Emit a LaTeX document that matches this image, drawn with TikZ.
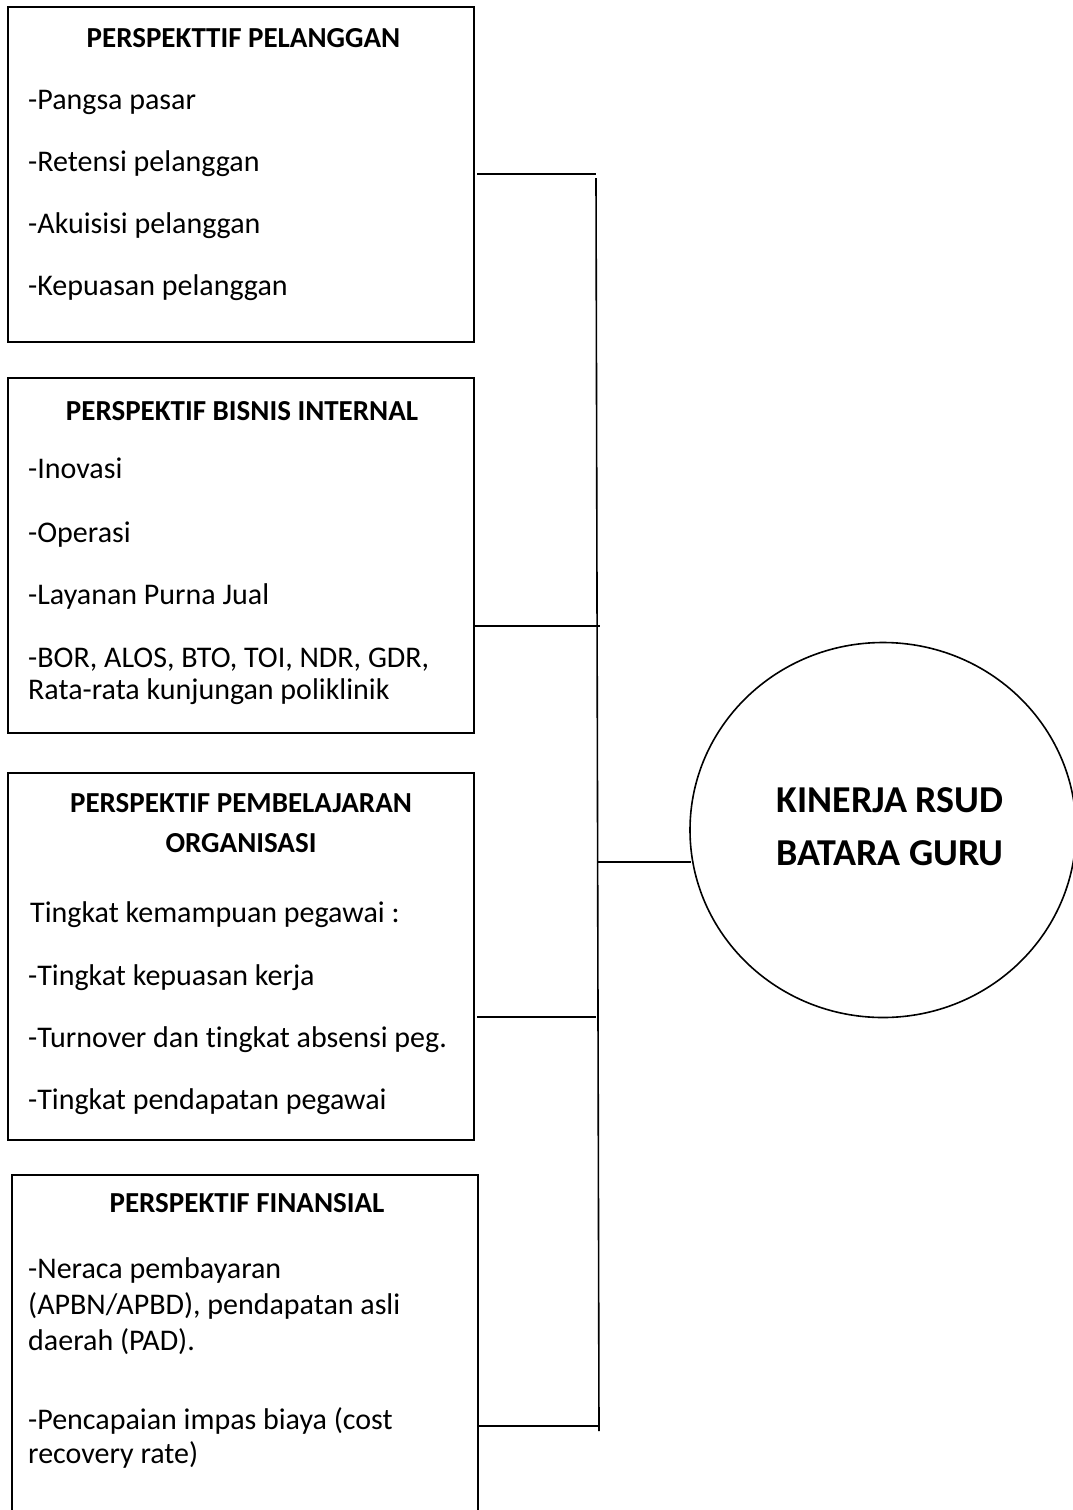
\documentclass[tikz,border=0pt]{standalone}
\usepackage{fontspec}
\setmainfont{Carlito}[Ligatures=NoCommon]
\usetikzlibrary{shapes.geometric}
\begin{document}
\begin{tikzpicture}[x=1pt,y=-1pt,
  box/.style={draw=black,line width=1.6pt,inner sep=0pt},
  conn/.style={draw=black,line width=1.6pt},
  hd/.style={anchor=base,inner sep=0pt,font=\fontsize{29}{35}\selectfont\bfseries},
  item/.style={anchor=base west,inner sep=0pt,font=\fontsize{30}{36}\selectfont},
  big/.style={align=center,inner sep=0pt,font=\fontsize{38}{53}\selectfont\bfseries}]
\path[use as bounding box,clip] (0,0) rectangle (1073,1510);
% boxes
\node[box,minimum width=466pt,minimum height=335pt] (b1) at (241,174.5) {};
\node[box,minimum width=466pt,minimum height=355pt] (b2) at (241,555.5) {};
\node[box,minimum width=466pt,minimum height=367pt] (b3) at (241,956.5) {};
\node[box,minimum width=466pt,minimum height=380pt] (b4) at (245,1365) {};
% box 1
\node[hd] (t1) at (243.5,47) {PERSPEKTTIF PELANGGAN};
\node[item] (t1a) at (28,109) {-Pangsa pasar};
\node[item] (t1b) at (28,171) {-Retensi pelanggan};
\node[item] (t1c) at (28,233) {-Akuisisi pelanggan};
\node[item] (t1d) at (28,295) {-Kepuasan pelanggan};
% box 2
\node[hd] (t2) at (242,420) {PERSPEKTIF BISNIS INTERNAL};
\node[item] (t2a) at (28,478) {-Inovasi};
\node[item] (t2b) at (28,542) {-Operasi};
\node[item] (t2c) at (28,604) {-Layanan Purna Jual};
\node[item] (t2d) at (28,667) {-BOR, ALOS, BTO, TOI, NDR, GDR,};
\node[item] (t2e) at (28,699) {Rata-rata kunjungan poliklinik};
% box 3
\node[hd] (t3) at (241,812) {PERSPEKTIF PEMBELAJARAN};
\node[hd] (t3h) at (241,852) {ORGANISASI};
\node[item] (t3a) at (30,922) {Tingkat kemampuan pegawai :};
\node[item] (t3b) at (28,985) {-Tingkat kepuasan kerja};
\node[item] (t3c) at (28,1047) {-Turnover dan tingkat absensi peg.};
\node[item] (t3d) at (28,1109) {-Tingkat pendapatan pegawai};
% box 4
\node[hd] (t4) at (247,1212) {PERSPEKTIF FINANSIAL};
\node[item] (t4a) at (28,1278) {-Neraca pembayaran};
\node[item] (t4b) at (28,1314) {(APBN/APBD), pendapatan asli};
\node[item] (t4c) at (28,1350) {daerah (PAD).};
\node[item] (t4d) at (28,1429) {-Pencapaian impas biaya (cost};
\node[item] (t4e) at (28,1463) {recovery rate)};
% circle
\node[draw=black,line width=1.6pt,ellipse,minimum width=386pt,minimum height=375pt,inner sep=0pt] (c) at (883,830) {};
\node[big] (ct) at (890,827) {KINERJA RSUD\\BATARA GURU};
% connectors
\coordinate (v1) at (596,178);
\coordinate (v2) at (599,1431);
\coordinate (h1a) at (477,174); \coordinate (h1b) at (596,174);
\coordinate (h2a) at (474,626); \coordinate (h2b) at (600,626);
\coordinate (h3a) at (477,1017); \coordinate (h3b) at (596,1017);
\coordinate (h4a) at (478,1426); \coordinate (h4b) at (599,1426);
\coordinate (h5a) at (598,862); \coordinate (h5b) at (691,862);
\draw[conn] (v1) -- (v2);
\draw[conn] (h1a) -- (h1b);
\draw[conn] (h2a) -- (h2b);
\draw[conn] (h3a) -- (h3b);
\draw[conn] (h4a) -- (h4b);
\draw[conn] (h5a) -- (h5b);
\end{tikzpicture}
\end{document}
